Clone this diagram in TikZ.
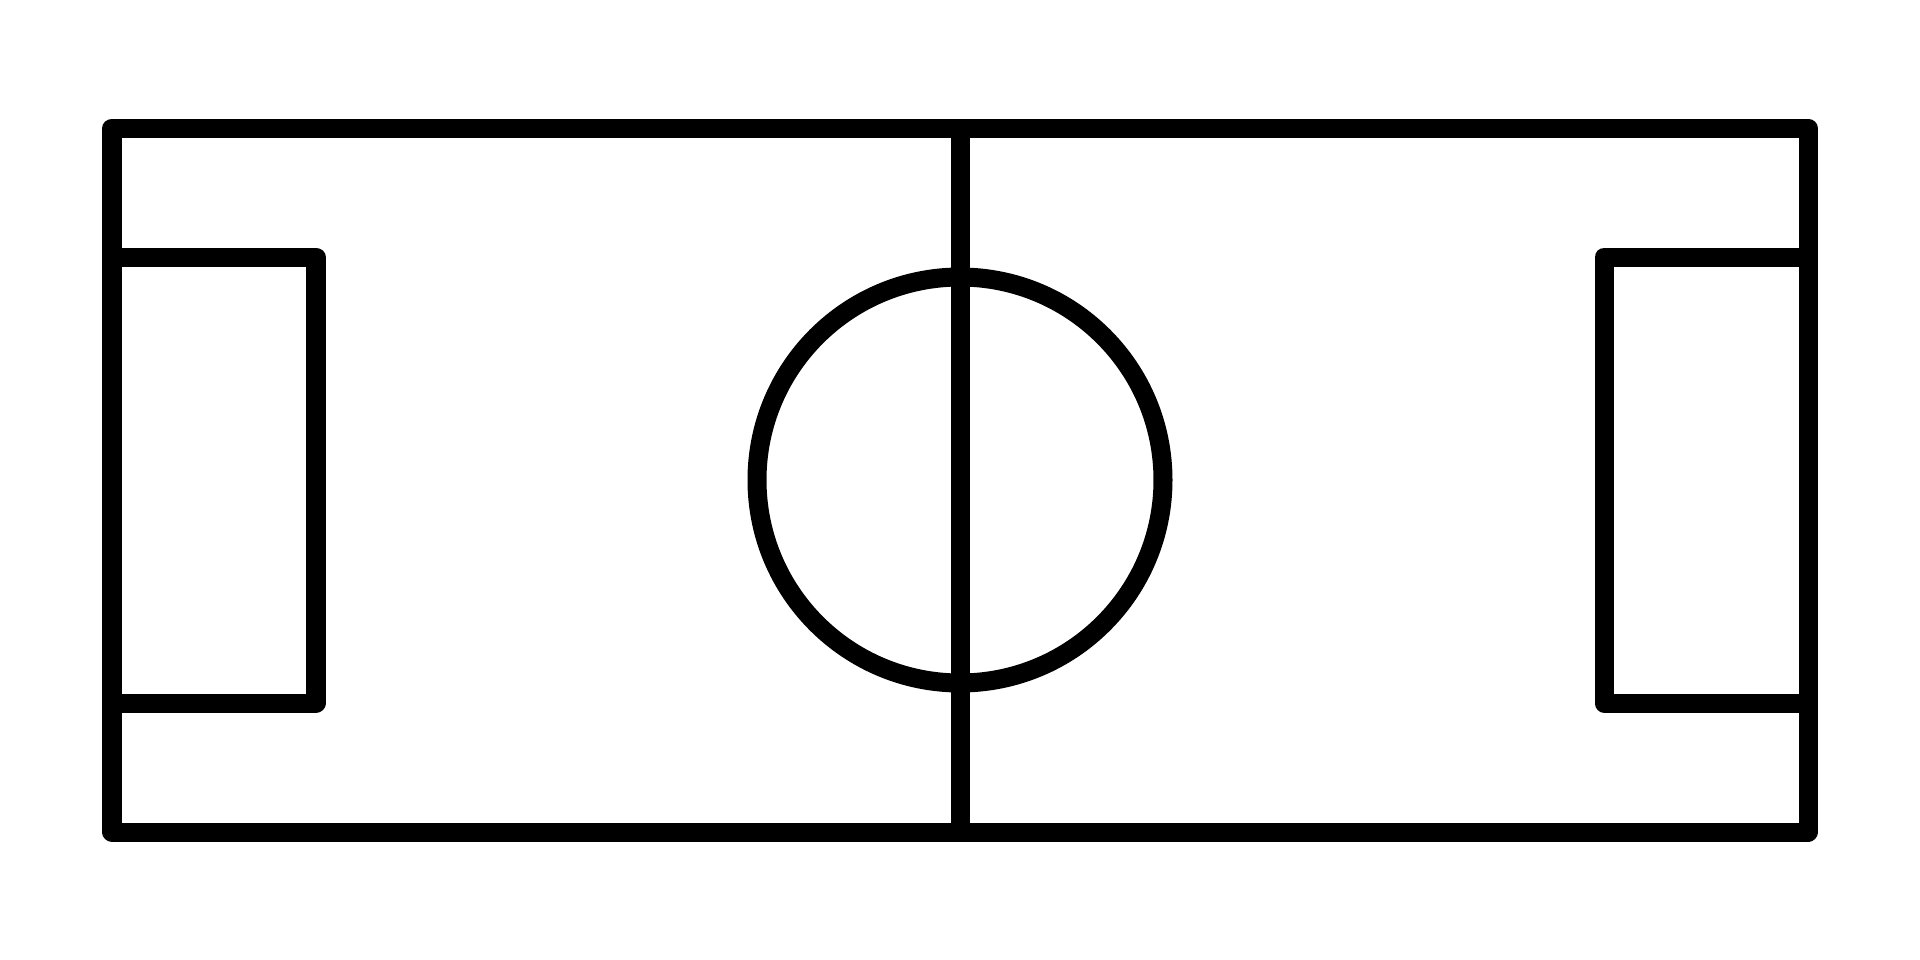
\documentclass[tikz,border=0pt]{standalone}
\begin{document}
\begin{tikzpicture}[x=0.01cm,y=-0.01cm,
  fieldline/.style={draw=black,line width=0.19cm,line join=round,line cap=butt}]
\useasboundingbox[fill=white] (0,0) rectangle (1920,960);
% outer boundary
\draw[fieldline] (112,128) rectangle (1808,832);
% halfway line
\draw[fieldline] (960,128) -- (960,832);
% centre circle
\draw[fieldline] (960,480) circle[radius=203];
% left penalty box
\draw[fieldline] (112,257) -- (316,257) -- (316,703) -- (112,703);
% right penalty box
\draw[fieldline] (1808,257) -- (1604,257) -- (1604,703) -- (1808,703);
\end{tikzpicture}
\end{document}
